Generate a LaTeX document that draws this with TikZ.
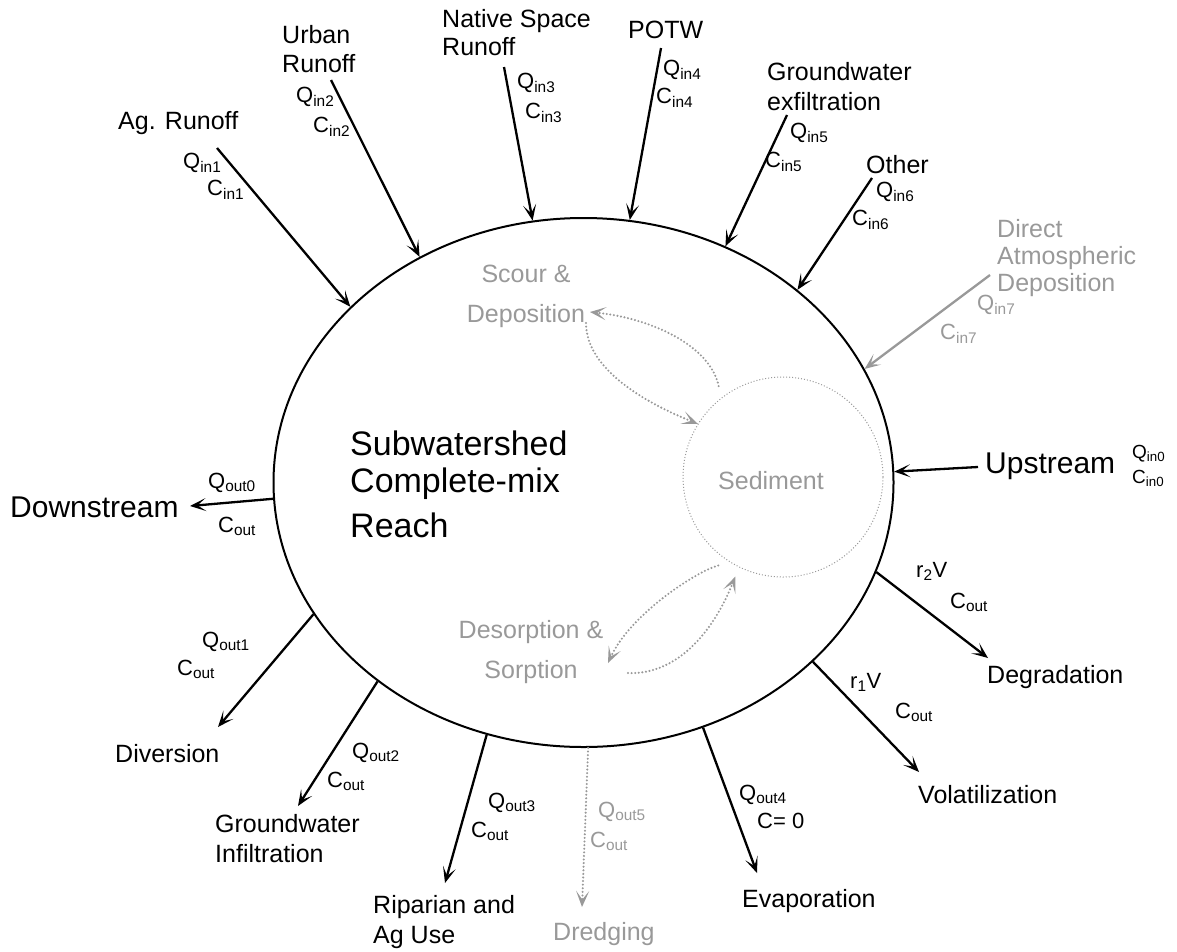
\documentclass[tikz,border=0pt]{standalone}
\usepackage{fontspec}
\setmainfont{Liberation Sans}
\usetikzlibrary{shapes.geometric,arrows.meta}
\definecolor{grayc}{RGB}{153,153,153}
\newcommand{\mlines}[2][l]{\begin{tabular}[t]{@{}#1@{}}#2\end{tabular}}
\begin{document}
\begin{tikzpicture}[x=1pt,y=-1pt]
\tikzset{
  lab/.style={inner sep=0pt, anchor=base west, font=\fontsize{25}{30}\selectfont},
  big/.style={inner sep=0pt, anchor=base west, font=\fontsize{30}{36}\selectfont},
  qc/.style={inner sep=0pt, anchor=base west, font=\fontsize{22}{26}\selectfont},
  qs/.style={inner sep=0pt, anchor=base west, font=\fontsize{19}{22}\selectfont},
  gtxt/.style={text=grayc},
  arr/.style={line width=2.3pt, -{Stealth[length=16pt,width=13pt,inset=8.5pt]}},
  garr/.style={arr, draw=grayc, color=grayc},
  gdot/.style={garr, line cap=round, dash pattern=on 0pt off 3.6pt},
}
\useasboundingbox (0,0) rectangle (1177,951);

% main reach and sediment
\node[draw, ellipse, line width=2pt, minimum width=620pt, minimum height=529pt, inner sep=0pt] (reach) at (583.5,482.5) {};
\node[draw=grayc, circle, line width=1pt, dash pattern=on 1pt off 2pt, minimum size=200pt, inner sep=0pt] (sed) at (783,477) {};
\node[lab, gtxt, anchor=base] (sedlab) at (771,489) {Sediment};

% center text
\node[inner sep=0pt, anchor=base west, font=\fontsize{34}{37}\selectfont] (cen) at (350,455) {\mlines{Subwatershed\\Complete-mix\\[8pt]Reach}};

% internal labels
\node[inner sep=0pt, anchor=base, gtxt, font=\fontsize{25}{40}\selectfont] (scour) at (526,282) {\mlines[c]{Scour \&\\Deposition}};
\node[inner sep=0pt, anchor=base, gtxt, font=\fontsize{25}{40}\selectfont] (desorp) at (531,638) {\mlines[c]{Desorption \&\\Sorption}};

% inflow labels
\node[lab] (agr) at (118,129) {Ag. Runoff};
\node[lab, font=\fontsize{25}{29}\selectfont] (urb) at (282,43) {\mlines{Urban\\Runoff}};
\node[lab, font=\fontsize{25}{28}\selectfont] (nat) at (442,27) {\mlines{Native Space\\Runoff}};
\node[lab] (potw) at (628,38) {POTW};
\node[lab] (gwe) at (767,80) {\mlines{Groundwater\\exfiltration}};
\node[lab] (oth) at (866,173) {Other};
\node[lab, gtxt, font=\fontsize{25}{27}\selectfont] (dad) at (997,237) {\mlines{Direct\\Atmospheric\\Deposition}};
\node[big] (ups) at (985,473) {Upstream};

% outflow labels
\node[big] (dns) at (10,517) {Downstream};
\node[lab] (div) at (115,762) {Diversion};
\node[lab] (gwi) at (215,832) {\mlines{Groundwater\\Infiltration}};
\node[lab] (rip) at (373,913) {\mlines{Riparian and\\Ag Use}};
\node[lab, gtxt] (dre) at (553,940) {Dredging};
\node[lab] (eva) at (742,907) {Evaporation};
\node[lab] (vol) at (918,803) {Volatilization};
\node[lab] (deg) at (987,683) {Degradation};

% Q / C labels
\node[qc] (qin1) at (183,168) {Q\textsubscript{in1}};
\node[qc] (cin1) at (207,195) {C\textsubscript{in1}};
\node[qc] (qin2) at (296,102) {Q\textsubscript{in2}};
\node[qc] (cin2) at (313,132) {C\textsubscript{in2}};
\node[qc] (qin3) at (517,88) {Q\textsubscript{in3}};
\node[qc] (cin3) at (525,118) {C\textsubscript{in3}};
\node[qc] (qin4) at (663,75) {Q\textsubscript{in4}};
\node[qc] (cin4) at (656,103) {C\textsubscript{in4}};
\node[qc] (qin5) at (790,138) {Q\textsubscript{in5}};
\node[qc] (cin5) at (765,167) {C\textsubscript{in5}};
\node[qc] (qin6) at (876,197) {Q\textsubscript{in6}};
\node[qc] (cin6) at (852,225) {C\textsubscript{in6}};
\node[qc, gtxt] (qin7) at (977,310) {Q\textsubscript{in7}};
\node[qc, gtxt] (cin7) at (940,339) {C\textsubscript{in7}};
\node[qs] (qin0) at (1132,458) {Q\textsubscript{in0}};
\node[qs] (cin0) at (1132,483) {C\textsubscript{in0}};
\node[qc] (qout0) at (208,488) {Q\textsubscript{out0}};
\node[qc] (cout0) at (218,532) {C\textsubscript{out}};
\node[qc] (qout1) at (202,647) {Q\textsubscript{out1}};
\node[qc] (cout1) at (177,675) {C\textsubscript{out}};
\node[qc] (qout2) at (352,758) {Q\textsubscript{out2}};
\node[qc] (cout2) at (327,787) {C\textsubscript{out}};
\node[qc] (qout3) at (488,808) {Q\textsubscript{out3}};
\node[qc] (cout3) at (471,837) {C\textsubscript{out}};
\node[qc, gtxt] (qout5) at (598,817) {Q\textsubscript{out5}};
\node[qc, gtxt] (cout5) at (590,847) {C\textsubscript{out}};
\node[qc] (qout4) at (739,800) {Q\textsubscript{out4}};
\node[qc] (czero) at (757,828) {C= 0};
\node[qc] (r1v) at (850,688) {r\textsubscript{1}V};
\node[qc] (coutv) at (895,718) {C\textsubscript{out}};
\node[qc] (r2v) at (916,577) {r\textsubscript{2}V};
\node[qc] (coutd) at (950,608) {C\textsubscript{out}};

% free ends
\coordinate (a1) at (217,148);
\coordinate (a2) at (331,80);
\coordinate (a3) at (504,67);
\coordinate (a4) at (661,48);
\coordinate (a5) at (787,115);
\coordinate (a6) at (872,178);
\coordinate (a7) at (990,275);
\coordinate (a0) at (978,467);
\coordinate (b0) at (190,506);
\coordinate (b1) at (218,727);
\coordinate (b2) at (298,806);
\coordinate (b3) at (445,883);
\coordinate (b5) at (582,907);
\coordinate (b4) at (757,873);
\coordinate (bv) at (919,772);
\coordinate (bd) at (988,658);
\coordinate (sd1) at (590,312);
\coordinate (sd2) at (586,323);
\coordinate (ds1) at (608,663);
\coordinate (ds2) at (628,673);

% inflows
\draw[arr] (a1) -- (reach.143.5);
\draw[arr] (a2) -- (reach.126);
\draw[arr] (a3) -- (reach.101.9);
\draw[arr] (a4) -- (reach.80);
\draw[arr] (a5) -- (reach.59.9);
\draw[arr] (a6) -- (reach.42.1);
\draw[garr] (a7) -- (reach.22);
\draw[arr] (a0) -- (reach.2.7);

% outflows
\draw[arr] (reach.183.8) -- (b0);
\draw[arr] (reach.206.8) -- (b1);
\draw[arr] (reach.224.1) -- (b2);
\draw[arr] (reach.249.9) -- (b3);
\draw[gdot] (reach.271.6) -- (b5);
\draw[arr] (reach.296.6) -- (b4);
\draw[arr] (reach.322.8) -- (bv);
\draw[arr] (reach.343.6) -- (bd);

% internal exchanges
\draw[gdot, shorten <=12pt] (sed.128) .. controls (710,345) and (650,318) .. (sd1);
\draw[gdot] (sd2) .. controls (586,370) and (648,404) .. (sed.148);
\draw[gdot, shorten <=12pt] (sed.238) .. controls (695,572) and (630,615) .. (ds1);
\draw[gdot, shorten >=10pt] (ds2) .. controls (675,675) and (712,635) .. (sed.244);
\end{tikzpicture}
\end{document}
